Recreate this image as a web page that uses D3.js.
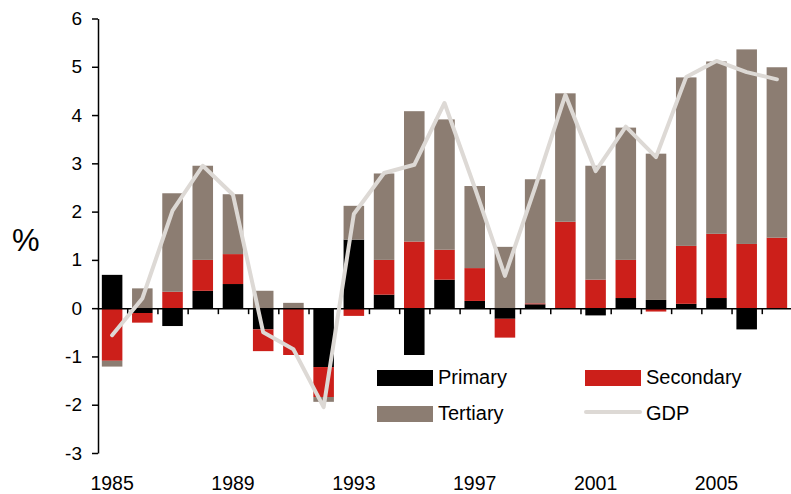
<!DOCTYPE html>
<html>
<head>
<meta charset="utf-8">
<script src="https://cdn.jsdelivr.net/npm/d3@7"></script>
<style>
  body { margin: 0; background: #fff; }
  svg { display: block; font-family: "Liberation Sans", Arial, sans-serif; }
</style>
</head>
<body>
<script>
//Data///////////////////////////////////////////////////////////////////////////////////////////

const years = d3.range(1985, 2008);
const primary   = [0.69, -0.10, -0.37, 0.36, 0.50, -0.44, 0.00, -1.22, 1.42, 0.28, -0.97, 0.59, 0.15, -0.22, 0.08, 0.00, -0.15, 0.21, 0.17, 0.09, 0.21, -0.44, 0.00];
const secondary = [-1.09, -0.20, 0.34, 0.64, 0.62, -0.45, -0.97, -0.62, -0.16, 0.72, 1.38, 0.62, 0.68, -0.39, 0.02, 1.79, 0.59, 0.79, -0.07, 1.20, 1.33, 1.33, 1.46];
const tertiary  = [-0.12, 0.41, 2.04, 1.95, 1.24, 0.36, 0.11, -0.10, 0.70, 1.79, 2.70, 2.70, 1.70, 1.27, 2.57, 2.66, 2.36, 2.74, 3.03, 3.49, 3.57, 4.03, 3.53];
const gdp       = [-0.56, 0.20, 2.02, 2.95, 2.35, -0.50, -0.85, -2.05, 1.95, 2.80, 2.97, 4.25, 2.50, 0.67, 2.50, 4.42, 2.84, 3.76, 3.13, 4.79, 5.12, 4.89, 4.74];
const seriesNames = ["Primary", "Secondary", "Tertiary"];
const yTicks = [-3, -2, -1, 0, 1, 2, 3, 4, 5, 6];
const yearLabels = [1985, 1989, 1993, 1997, 2001, 2005];

// build rows for the stack
var rows = years.map(function(yr, i) {
  return { year: yr, Primary: primary[i], Secondary: secondary[i], Tertiary: tertiary[i] };
});

var W = 791, H = 494;
var plotLeft = 97, plotRight = 792, plotTop = 18.5, plotBottom = 453;

var svg = d3.select("body").append("svg")
    .attr("width", W)
    .attr("height", H);

var x = d3.scaleBand()
    .domain(years)
    .range([plotLeft, plotRight])
    .paddingInner(0.32)
    .paddingOuter(0.16);

var y = d3.scaleLinear()
    .domain([-3, 6])
    .range([plotBottom, plotTop]);

var color = d3.scaleOrdinal()
    .domain(seriesNames)
    .range(["#000000", "#cc1f1a", "#8c7d72"]);

var gdpColor = "#ddd9d5";

// stacked bars, negatives go down
var stacked = d3.stack()
    .keys(seriesNames)
    .offset(d3.stackOffsetDiverging)(rows);

svg.append("g").selectAll("g")
    .data(stacked)
    .enter().append("g")
    .attr("fill", function(d) { return color(d.key); })
  .selectAll("rect")
    .data(function(d) { return d; })
    .enter().append("rect")
    .attr("x", function(d) { return x(d.data.year); })
    .attr("y", function(d) { return y(Math.max(d[0], d[1])); })
    .attr("width", x.bandwidth())
    .attr("height", function(d) { return Math.abs(y(d[0]) - y(d[1])); });

// zero line with ticks between the bars
var edge = d3.scaleLinear().domain([0, years.length]).range([plotLeft, plotRight]);
var zeroAxis = svg.append("g")
    .attr("transform", "translate(0," + y(0) + ")")
    .call(d3.axisBottom(edge)
        .tickValues(d3.range(1, years.length))
        .tickSize(6)
        .tickSizeOuter(0)
        .tickFormat(""));
zeroAxis.select(".domain").attr("stroke-width", 1.5);
zeroAxis.selectAll(".tick line").attr("stroke-width", 1.5);

// y axis (plain hyphen for negatives, like the original)
var yAxis = svg.append("g")
    .attr("transform", "translate(" + (plotLeft + 1) + ",0)")
    .call(d3.axisLeft(y)
        .tickValues(yTicks)
        .tickSize(6)
        .tickSizeOuter(0)
        .tickPadding(10)
        .tickFormat(function(d) { return String(d); }));
yAxis.select(".domain").attr("stroke-width", 1.5);
yAxis.selectAll(".tick line").attr("stroke-width", 1.5);
yAxis.selectAll(".tick text")
    .attr("font-size", "19px")
    .attr("font-family", "Liberation Sans, Arial, sans-serif")
    .attr("fill", "#000");

// year labels along the bottom
var xAxis = svg.append("g")
    .attr("transform", "translate(0,490)")
    .call(d3.axisBottom(x).tickValues(yearLabels).tickSize(0).tickPadding(0));
xAxis.select(".domain").remove();
xAxis.selectAll(".tick text")
    .attr("y", 0)
    .attr("dy", 0)
    .attr("font-size", "19.5px")
    .attr("font-family", "Liberation Sans, Arial, sans-serif")
    .attr("fill", "#000");

// GDP line
var line = d3.line()
    .x(function(d, i) { return x(years[i]) + x.bandwidth() / 2; })
    .y(function(d) { return y(d); });

svg.append("path")
    .datum(gdp)
    .attr("d", line)
    .attr("fill", "none")
    .attr("stroke", gdpColor)
    .attr("stroke-width", 4)
    .attr("stroke-linejoin", "round")
    .attr("stroke-linecap", "round");

// y label
svg.append("text")
    .attr("x", 12)
    .attr("y", 251)
    .attr("font-size", "31px")
    .text("%");

// legend
var legendItems = [
  { name: "Primary", kind: "bar", lx: 377, ly: 370 },
  { name: "Secondary", kind: "bar", lx: 585, ly: 370 },
  { name: "Tertiary", kind: "bar", lx: 377, ly: 406 },
  { name: "GDP", kind: "line", lx: 585, ly: 406 }
];

var legend = svg.append("g").selectAll("g")
    .data(legendItems)
    .enter().append("g")
    .attr("transform", function(d) { return "translate(" + d.lx + "," + d.ly + ")"; });

legend.filter(function(d) { return d.kind === "bar"; })
    .append("rect")
    .attr("width", 56)
    .attr("height", 16)
    .attr("fill", function(d) { return color(d.name); });

legend.filter(function(d) { return d.kind === "line"; })
    .append("line")
    .attr("x1", 1).attr("x2", 55)
    .attr("y1", 6).attr("y2", 6)
    .attr("stroke", gdpColor)
    .attr("stroke-width", 4)
    .attr("stroke-linecap", "round");

legend.append("text")
    .attr("x", 61)
    .attr("y", 14)
    .attr("font-size", "20px")
    .text(function(d) { return d.name; });
</script>
</body>
</html>
